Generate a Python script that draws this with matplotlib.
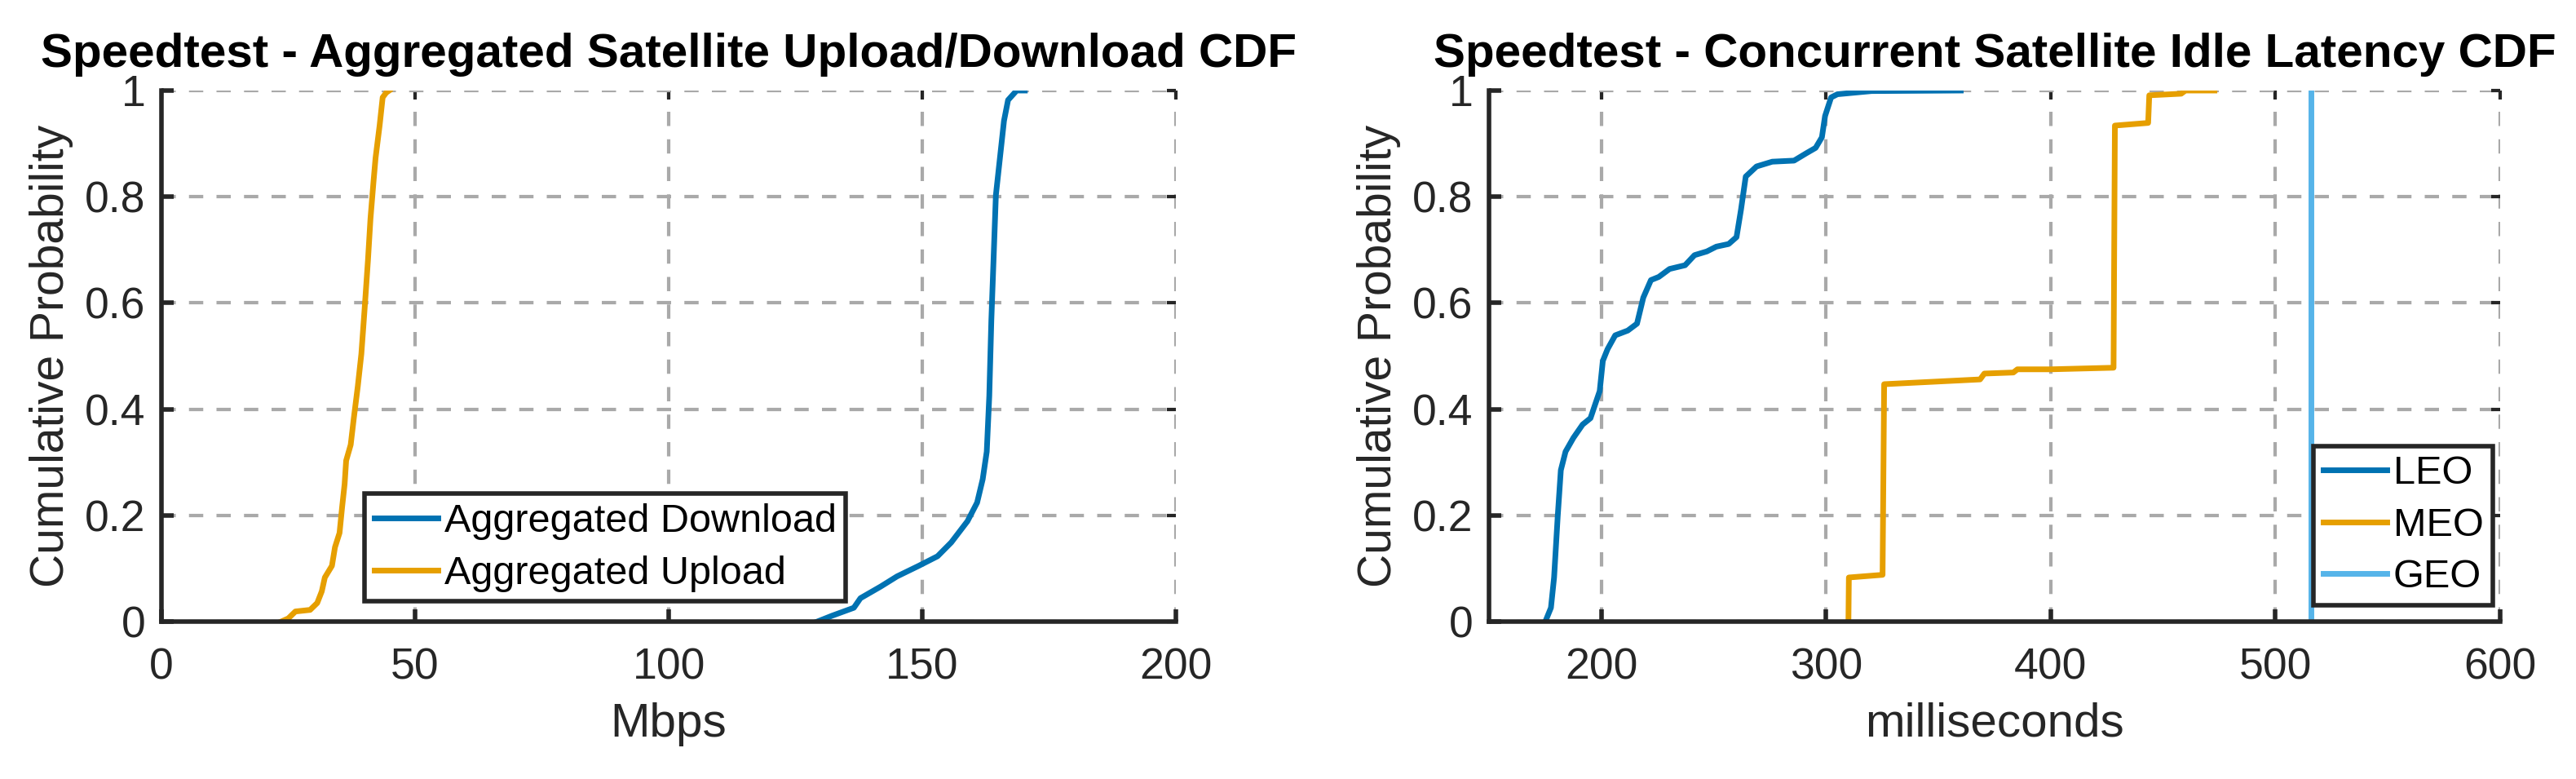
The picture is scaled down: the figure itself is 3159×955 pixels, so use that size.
import matplotlib.pyplot as plt

# --- data ---
upload_mbps = [23.6, 25.0, 26.4, 29.3, 30.7, 31.6, 32.2, 33.6, 34.2, 35.1, 35.6, 36.1,
               36.4, 37.3, 37.9, 38.7, 39.4, 40.0, 40.7, 41.2, 41.8, 42.2, 43.0, 43.6,
               44.3, 44.9]
upload_cdf = [0.0, 0.006, 0.019, 0.022, 0.035, 0.057, 0.083, 0.105, 0.140, 0.167, 0.215,
              0.259, 0.303, 0.333, 0.382, 0.443, 0.504, 0.583, 0.680, 0.759, 0.829, 0.873,
              0.934, 0.987, 0.996, 1.0]

download_mbps = [129.3, 132.2, 136.5, 137.8, 141.8, 145.0, 149.3, 153.0, 155.7, 158.9,
                 160.8, 161.9, 162.7, 163.2, 163.6, 164.0, 164.5, 165.3, 166.1, 166.9,
                 168.6, 170.2]
download_cdf = [0.0, 0.011, 0.026, 0.044, 0.066, 0.085, 0.105, 0.123, 0.149, 0.189,
                0.224, 0.268, 0.320, 0.425, 0.566, 0.671, 0.803, 0.873, 0.943, 0.982,
                1.0, 1.0]

leo_ms = [175.1, 177.6, 179.0, 180.6, 182.0, 184.1, 187.6, 191.7, 195.2, 197.2, 199.3,
          200.7, 202.8, 206.2, 211.8, 215.9, 218.7, 222.1, 225.6, 230.4, 237.3, 241.5,
          247.0, 251.2, 256.7, 260.2, 262.2, 264.3, 269.1, 276.1, 285.8, 291.3, 295.4,
          298.2, 299.6, 302.3, 305.1, 320.3, 360.0]
leo_cdf = [0.0, 0.026, 0.083, 0.197, 0.285, 0.320, 0.346, 0.371, 0.383, 0.408, 0.434,
           0.491, 0.513, 0.539, 0.548, 0.561, 0.610, 0.643, 0.649, 0.664, 0.671, 0.690,
           0.697, 0.706, 0.711, 0.724, 0.776, 0.838, 0.857, 0.866, 0.868, 0.882, 0.892,
           0.912, 0.952, 0.987, 0.993, 0.999, 1.0]

meo_ms = [310.0, 310.2, 325.2, 325.9, 368.6, 370.5, 383.4, 385.2, 400.0, 428.0, 428.6,
          443.4, 443.9, 458.1, 460.0, 472.9]
meo_cdf = [0.0, 0.083, 0.088, 0.447, 0.456, 0.467, 0.469, 0.475, 0.475, 0.478, 0.934,
           0.939, 0.991, 0.994, 1.0, 1.0]

geo_ms = [515.7, 515.7]
geo_cdf = [0.0, 1.0]

yticks = [0, 0.2, 0.4, 0.6, 0.8, 1]
ytick_labels = ['0', '0.2', '0.4', '0.6', '0.8', '1']

BLUE = '#0072B2'
ORANGE = '#E69F00'
SKY = '#56B4E9'
AXCOL = '#262626'
GRIDCOL = '#a9a9a9'
LW = 5

plt.rcParams['font.family'] = ['Liberation Sans', 'DejaVu Sans']

fig = plt.figure(figsize=(31.59, 9.55), dpi=100)
ax1 = fig.add_axes([0.0627, 0.2021, 0.3938, 0.6817])
ax2 = fig.add_axes([0.5780, 0.2021, 0.3925, 0.6817])


def style_axes(ax, xlim, xticks, xlabel, title):
    ax.set_xlim(*xlim)
    ax.set_ylim(0, 1)
    ax.set_xticks(xticks)
    ax.set_xticklabels([str(t) for t in xticks])
    ax.set_yticks(yticks)
    ax.set_yticklabels(ytick_labels)
    for side in ['top', 'right']:
        ax.spines[side].set_visible(False)
    for side in ['left', 'bottom']:
        ax.spines[side].set_color(AXCOL)
        ax.spines[side].set_linewidth(4)
    ax.tick_params(direction='in', length=11, width=4, color=AXCOL,
                   labelcolor=AXCOL, labelsize=38.5, top=True, right=True)
    ax.tick_params(axis='x', pad=23)
    ax.tick_params(axis='y', pad=14)
    # MATLAB-like faint ticks on the top/right edges
    for t in ax.xaxis.get_major_ticks() + ax.yaxis.get_major_ticks():
        t.tick2line.set_color('#9a9a9a')
        t.tick2line.set_markeredgewidth(3)
        t.tick2line.set_markersize(8)
    ax.grid(True, color=GRIDCOL, linewidth=3, linestyle=(0, (4.2, 3.9)))
    ax.set_axisbelow(True)
    ax.set_xlabel(xlabel, fontsize=42, color=AXCOL, labelpad=12)
    ax.set_ylabel('Cumulative Probability', fontsize=41, color=AXCOL, labelpad=10)
    ax.set_title(title, fontsize=42, fontweight='bold', pad=21)
    for s in ax.spines.values():
        s.set_zorder(3)


ax1.plot(download_mbps, download_cdf, color=BLUE, linewidth=LW, label='Aggregated Download')
ax1.plot(upload_mbps, upload_cdf, color=ORANGE, linewidth=LW, label='Aggregated Upload')
style_axes(ax1, (0, 200), [0, 50, 100, 150, 200], 'Mbps',
           'Speedtest - Aggregated Satellite Upload/Download CDF')
leg1 = ax1.legend(loc='lower left', bbox_to_anchor=(0.2, 0.038), borderaxespad=0,
                  fontsize=35, handlelength=1.62, handletextpad=0.15,
                  labelspacing=0.38, borderpad=0.24, fancybox=False, framealpha=1)

ax2.plot(leo_ms, leo_cdf, color=BLUE, linewidth=LW, label='LEO')
ax2.plot(meo_ms, meo_cdf, color=ORANGE, linewidth=LW, label='MEO')
ax2.plot(geo_ms, geo_cdf, color=SKY, linewidth=LW, label='GEO')
style_axes(ax2, (150, 600), [200, 300, 400, 500, 600], 'milliseconds',
           'Speedtest - Concurrent Satellite Idle Latency CDF')
leg2 = ax2.legend(loc='lower right', bbox_to_anchor=(0.993, 0.031), borderaxespad=0,
                  fontsize=35, handlelength=1.62, handletextpad=0.15,
                  labelspacing=0.38, borderpad=0.24, fancybox=False, framealpha=1)

for leg in (leg1, leg2):
    frame = leg.get_frame()
    frame.set_edgecolor(AXCOL)
    frame.set_linewidth(4)
    for line in leg.get_lines():
        line.set_linewidth(LW)

fig.savefig('out.png', dpi=100)
